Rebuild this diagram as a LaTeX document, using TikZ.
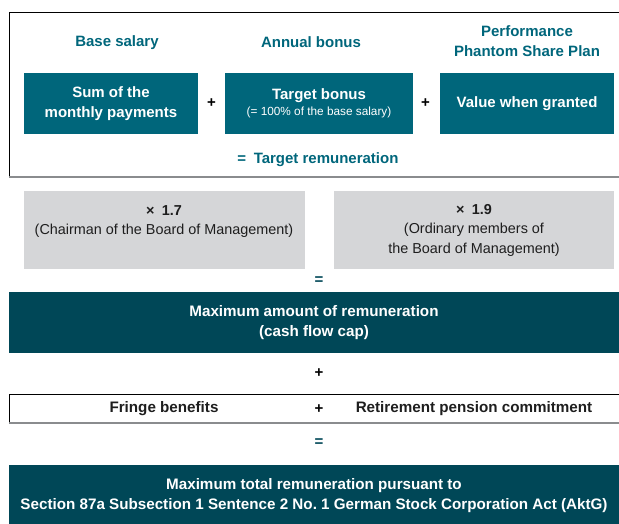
\documentclass[tikz,border=0pt]{standalone}
\usepackage{fontspec}
\setmainfont{Liberation Sans}
\usetikzlibrary{positioning}
\definecolor{remTeal}{HTML}{00667B}
\definecolor{remDark}{HTML}{004757}
\definecolor{remGray}{HTML}{D5D6D8}
\definecolor{remRule}{HTML}{8A8C8E}
\definecolor{remInk}{HTML}{1E1E1E}
\tikzset{
  rem frame/.style={draw=black, line width=0.8pt},
  rem rule/.style={draw=remRule, line width=2pt},
  rem head/.style={font=\fontsize{15}{19.5}\selectfont\bfseries, text=remTeal, align=center},
  rem box/.style={fill=remTeal, text=white, font=\fontsize{15}{19.5}\selectfont\bfseries, align=center, minimum height=61pt, inner sep=0pt},
  rem factor/.style={fill=remGray, text=remInk, font=\fontsize{14.4}{19.5}\selectfont, align=center, minimum width=281pt, minimum height=78pt, inner sep=0pt},
  rem cap/.style={fill=remDark, text=white, font=\fontsize{15.2}{20.5}\selectfont\bfseries, align=center, minimum width=610pt, inner sep=0pt},
  rem op/.style={font=\fontsize{15}{15}\selectfont\bfseries, text=black},
  rem item/.style={font=\fontsize{15.2}{15}\selectfont\bfseries, text=remInk},
}
\begin{document}
\begin{tikzpicture}[x=1pt,y=1pt]
\useasboundingbox (0,0) rectangle (619,523);
% target remuneration frame
\draw[rem frame] (625,511) -- (9,511) -- (9,346);
\draw[rem rule] (9,346) -- (625,346);
\node[rem head] (hBase) at (117,480.5) {Base salary};
\node[rem head] (hBonus) at (311,480.5) {Annual bonus};
\node[rem head] (hPSP) at (527,482) {Performance\\Phantom Share Plan};
\node[rem box, minimum width=174pt] (bBase) at (111,419.5) {Sum of the\\monthly payments};
\node[rem box, minimum width=188pt] (bBonus) at (319,419.5) {Target bonus\\[-3pt]{\mdseries\fontsize{11.8}{13}\selectfont(= 100\% of the base salary)}};
\node[rem box, minimum width=174pt] (bPSP) at (527,419.5) {Value when granted};
\node[rem op] (p1) at (211.5,419.5) {+};
\node[rem op] (p2) at (425.5,419.5) {+};
\node[rem head] (tTarget) at (318,363.5) {=\enspace Target remuneration};
% cap factors
\node[rem factor] (fChair) at (164,293) {\textbf{×\enspace 1.7}\\(Chairman of the Board of Management)\\\mbox{}};
\node[rem factor, minimum width=280pt] (fOrd) at (474,293) {\textbf{×\enspace 1.9}\\(Ordinary members of\\the Board of Management)};
\node[rem op, text=remDark] (e1) at (319,242) {=};
\node[rem cap, minimum height=61pt] (cCap) at (314,200.5) {Maximum amount of remuneration\\(cash flow cap)};
\node[rem op] (p3) at (319,150) {+};
% fringe benefits strip
\draw[rem frame] (625,129) -- (9,129) -- (9,100);
\draw[rem rule] (9,100) -- (625,100);
\node[rem item] (iFringe) at (164,114) {Fringe benefits};
\node[rem op] (p4) at (319,114) {+};
\node[rem item] (iPension) at (474,114) {Retirement pension commitment};
\node[rem op, text=remDark] (e2) at (319,80) {=};
\node[rem cap, minimum height=61pt] (cTotal) at (314,27.5) {Maximum total remuneration pursuant to\\Section 87a Subsection 1 Sentence 2 No.~1 German Stock Corporation Act (AktG)};
\end{tikzpicture}
\end{document}
